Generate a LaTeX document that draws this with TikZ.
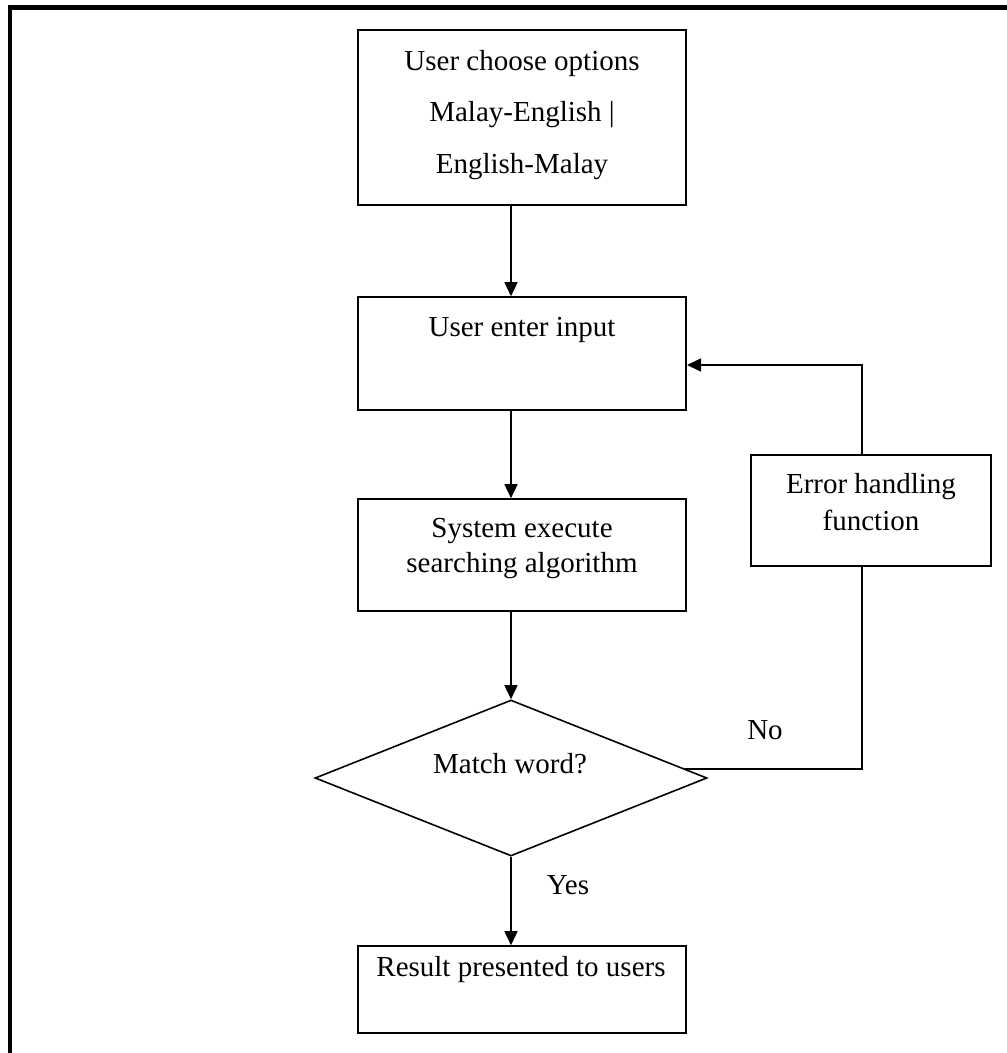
\documentclass[tikz,border=0pt]{standalone}
\usepackage{fontspec}
\setmainfont{Liberation Serif}
\usetikzlibrary{shapes.geometric,arrows.meta}
\tikzset{
  box/.style={draw,line width=1.6pt,minimum width=328pt,inner sep=0pt},
  txt/.style={inner sep=0pt,align=center,font=\fontsize{29}{36}\selectfont},
  flow/.style={line width=1.6pt},
  arr/.style={flow,-{Triangle[length=14pt,width=13pt]}},
  frameline/.style={line width=4.6pt}
}
\begin{document}
\begin{tikzpicture}[x=1pt,y=-1pt]
\useasboundingbox (0,0) rectangle (1007,1053);
% frame (top and left)
\draw[frameline] (10,7.5) -- (1007,7.5);
\draw[frameline] (10,5.2) -- (10,1053);
% boxes
\node[box,minimum height=175pt] (b1) at (522,117.5) {};
\node[txt,font=\fontsize{29}{51.5}\selectfont] (t1) at (522,115) {User choose options\\Malay-English |\\English-Malay};
\node[box,minimum height=113pt] (b2) at (522,353.5) {};
\node[txt] (t2) at (522,330) {User enter input};
\node[box,minimum height=112pt] (b3) at (522,555) {};
\node[txt,font=\fontsize{29}{35}\selectfont] (t3) at (522,549) {System execute\\searching algorithm};
\node[draw,line width=1.6pt,shape=diamond,minimum width=392pt,minimum height=156pt,inner sep=0pt] (dia) at (511,778) {};
\node[txt] (td) at (510,764) {Match word?};
\node[box,minimum height=87pt] (res) at (522,989.5) {};
\node[txt] (tr) at (521,970) {Result presented to users};
\node[box,minimum width=240pt,minimum height=111pt] (err) at (871,510.5) {};
\node[txt,font=\fontsize{29}{37}\selectfont] (te) at (871,502) {Error handling\\function};
% labels
\node[txt] (yes) at (568,885) {Yes};
\node[txt] (no) at (765,730) {No};
% helper coordinates
\coordinate (vx) at (862,0);
\coordinate (fbin) at (687,365);
% connectors
\draw[arr] (b1.south -| dia.north) -- (b2.north -| dia.north);
\draw[arr] (b2.south -| dia.north) -- (b3.north -| dia.north);
\draw[arr] (b3.south -| dia.north) -- (dia.north);
\draw[arr] (dia.south) -- (res.north -| dia.south);
\draw[flow] (dia.3.3) -- (dia.3.3 -| vx) -- (vx |- err.south);
\draw[arr] (vx |- err.north) -- (vx |- fbin) -- (fbin);
\end{tikzpicture}
\end{document}
